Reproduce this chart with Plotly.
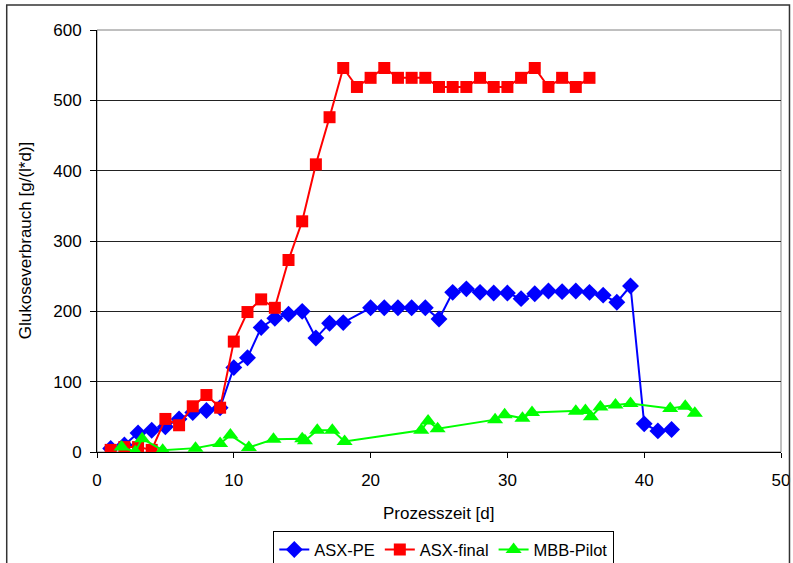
import plotly.graph_objects as go

# Process time [d] and glucose consumption [g/(l*d)] per reactor
asx_pe_days = [1, 2, 3, 4, 5, 6, 7, 8, 9, 10, 11, 12, 13, 14, 15, 16, 17, 18,
               20, 21, 22, 23, 24, 25, 26, 27, 28, 29, 30, 31, 32, 33, 34, 35,
               36, 37, 38, 39, 40, 41, 42]
asx_pe_vals = [5, 10, 27, 31, 36, 47, 56, 59, 63, 120, 134, 177, 190, 196, 200,
               162, 183, 184, 205, 205, 205, 205, 205, 189, 227, 232, 227, 226,
               226, 218, 225, 229, 228, 229, 227, 223, 213, 236, 40, 30, 32]

asx_final_days = list(range(1, 37))
asx_final_vals = [3, 7, 7, 3, 47, 38, 65, 81, 63, 157, 199, 217, 205, 273, 328,
                  409, 476, 546, 519, 532, 546, 532, 532, 532, 519, 519, 519,
                  532, 519, 519, 532, 546, 519, 532, 519, 532]

mbb_days = [1.8, 2.8, 3.3, 4.8, 7.2, 9.0, 9.75, 11.1, 12.9, 15.0, 15.2, 16.1,
            17.2, 18.1, 23.7, 24.2, 24.9, 29.1, 29.8, 31.1, 31.8, 35.0, 35.7,
            36.1, 36.8, 37.9, 39.0, 41.9, 43.0, 43.7]
mbb_vals = [7, 0.5, 19, 2.5, 5.5, 12, 24, 6.5, 18, 19, 16, 31, 31, 15, 31, 44,
            33, 46, 53, 48, 56, 58, 59, 50, 64, 67, 69, 62, 65, 55]

x_ticks = [0, 10, 20, 30, 40, 50]
y_ticks = [0, 100, 200, 300, 400, 500, 600]

FONT = "Liberation Sans, Arial, sans-serif"
FS = 17

fig = go.Figure()
fig.add_trace(go.Scatter(
    x=asx_pe_days, y=asx_pe_vals, name="ASX-PE", mode="lines+markers",
    line=dict(color="#0000FF", width=2),
    marker=dict(symbol="diamond", size=13, color="#0000FF"),
))
fig.add_trace(go.Scatter(
    x=asx_final_days, y=asx_final_vals, name="ASX-final", mode="lines+markers",
    line=dict(color="#FF0000", width=2),
    marker=dict(symbol="square", size=12, color="#FF0000"),
))
fig.add_trace(go.Scatter(
    x=mbb_days, y=mbb_vals, name="MBB-Pilot", mode="lines+markers",
    line=dict(color="#00FF00", width=2),
    marker=dict(symbol="triangle-up", size=14, color="#00FF00"),
))

fig.update_layout(
    width=793, height=563,
    margin=dict(l=96.5, r=11.5, t=30, b=111.3, autoexpand=False),
    paper_bgcolor="white", plot_bgcolor="white",
    font=dict(family=FONT, size=FS, color="black"),
    showlegend=True,
    legend=dict(
        orientation="h", x=0.507, xanchor="center", y=-0.188, yanchor="top",
        bordercolor="black", borderwidth=1, bgcolor="white",
        font=dict(family=FONT, size=16.5), tracegroupgap=0,
    ),
    xaxis=dict(
        range=[0, 50], tickvals=x_ticks, showgrid=False, zeroline=False,
        showline=True, linecolor="black", linewidth=1, mirror=False,
        ticks="outside", ticklen=5, tickcolor="black", ticklabelstandoff=8,
        tickfont=dict(family=FONT, size=FS),
    ),
    yaxis=dict(
        range=[0, 600], tickvals=y_ticks, showgrid=True, gridcolor="#222222",
        gridwidth=1, zeroline=False,
        showline=True, linecolor="black", linewidth=1,
        ticks="outside", ticklen=6, tickcolor="black", ticklabelstandoff=5,
        tickfont=dict(family=FONT, size=FS),
    ),
    annotations=[
        dict(text="Prozesszeit [d]", xref="paper", yref="paper",
             x=0.5, y=-0.145, xanchor="center", yanchor="middle",
             showarrow=False, font=dict(family=FONT, size=FS)),
        dict(text="Glukoseverbrauch [g/(l*d)]", xref="paper", yref="paper",
             x=-0.105, y=0.5, xanchor="center", yanchor="middle", textangle=-90,
             showarrow=False, font=dict(family=FONT, size=FS)),
    ],
    shapes=[
        # plot area border
        dict(type="rect", xref="paper", yref="paper", x0=0, y0=0, x1=1, y1=1,
             line=dict(color="#808080", width=1), layer="below"),
        # outer chart frame
        dict(type="rect", xref="paper", yref="paper", x0=-0.132, y0=-0.27,
             x1=1.0124, y1=1.059, line=dict(color="#333333", width=1.5)),
    ],
)

fig.write_html("out.html")
